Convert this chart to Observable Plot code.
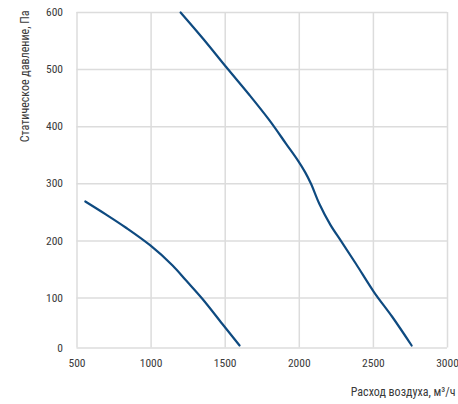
<!DOCTYPE html>
<html><head><meta charset="utf-8">
<script src="https://cdn.jsdelivr.net/npm/d3@7"></script>
<script src="https://cdn.jsdelivr.net/npm/@observablehq/plot@0.6"></script>
<style>body{margin:0;background:#fff} svg text{font-stretch:75%}</style>
</head><body><div id="chart"></div>
<script>
const curveSmallX = [556, 697, 831, 995, 1145, 1235, 1347, 1481, 1597];
const curveSmallY = [269, 246, 223, 192, 157, 131, 98, 48, 5];
const curveLargeX = [1199, 1351, 1508, 1665, 1799, 1911, 1990, 2040, 2079, 2135, 2210, 2281, 2382, 2505, 2628, 2758];
const curveLargeY = [600, 554, 504, 455, 411, 370, 341, 320, 300, 265, 228, 200, 160, 110, 62, 5];
const xTicks = [500, 1000, 1500, 2000, 2500, 3000];
const yTicks = [0, 100, 200, 300, 400, 500, 600];
const xLabel = "Расход воздуха, м³/ч";
const yLabel = "Статическое давление, Па";

const small = curveSmallX.map((x, i) => ({x, y: curveSmallY[i]}));
const large = curveLargeX.map((x, i) => ({x, y: curveLargeY[i]}));

const font = "Roboto, 'DejaVu Sans', sans-serif";
const grid = "#dcdcdc";
const blue = "#0e4a80";
const ink = "#3a3a3a";

const chart = Plot.plot({
  width: 458, height: 404,
  marginLeft: 76.5, marginRight: 11, marginTop: 12, marginBottom: 56.5,
  style: {fontFamily: font, fontSize: "11.5px", color: ink, background: "#fff"},
  x: {type: "linear", domain: [500, 3000], ticks: xTicks, label: null},
  y: {type: "linear", domain: [0, 100, 600], range: [347.5, 297.5, 12], ticks: yTicks, label: null},
  marks: [
    Plot.gridX(xTicks, {stroke: grid, strokeOpacity: 1, strokeWidth: 1.5}),
    Plot.gridY(yTicks, {stroke: grid, strokeOpacity: 1, strokeWidth: 1.5}),
    Plot.axisX(xTicks, {tickSize: 0, tickPadding: 11, label: null, fill: ink, tickFormat: d => String(d)}),
    Plot.axisY(yTicks, {tickSize: 0, tickPadding: 14, label: null, fill: ink, tickFormat: d => String(d)}),
    Plot.line(small, {x: "x", y: "y", stroke: blue, strokeWidth: 2.2, curve: "catmull-rom"}),
    Plot.line(large, {x: "x", y: "y", stroke: blue, strokeWidth: 2.2, curve: "catmull-rom"}),
    Plot.text([xLabel], {frameAnchor: "bottom-right", text: d => d, textAnchor: "end", dx: 8, dy: 48, fill: ink, fontSize: 12}),
    Plot.text([yLabel], {frameAnchor: "top-left", text: d => d, rotate: -90, textAnchor: "end", dx: -56.5, dy: -2, fill: ink, fontSize: 12})
  ]
});
document.getElementById("chart").appendChild(chart);
</script>
</body></html>
